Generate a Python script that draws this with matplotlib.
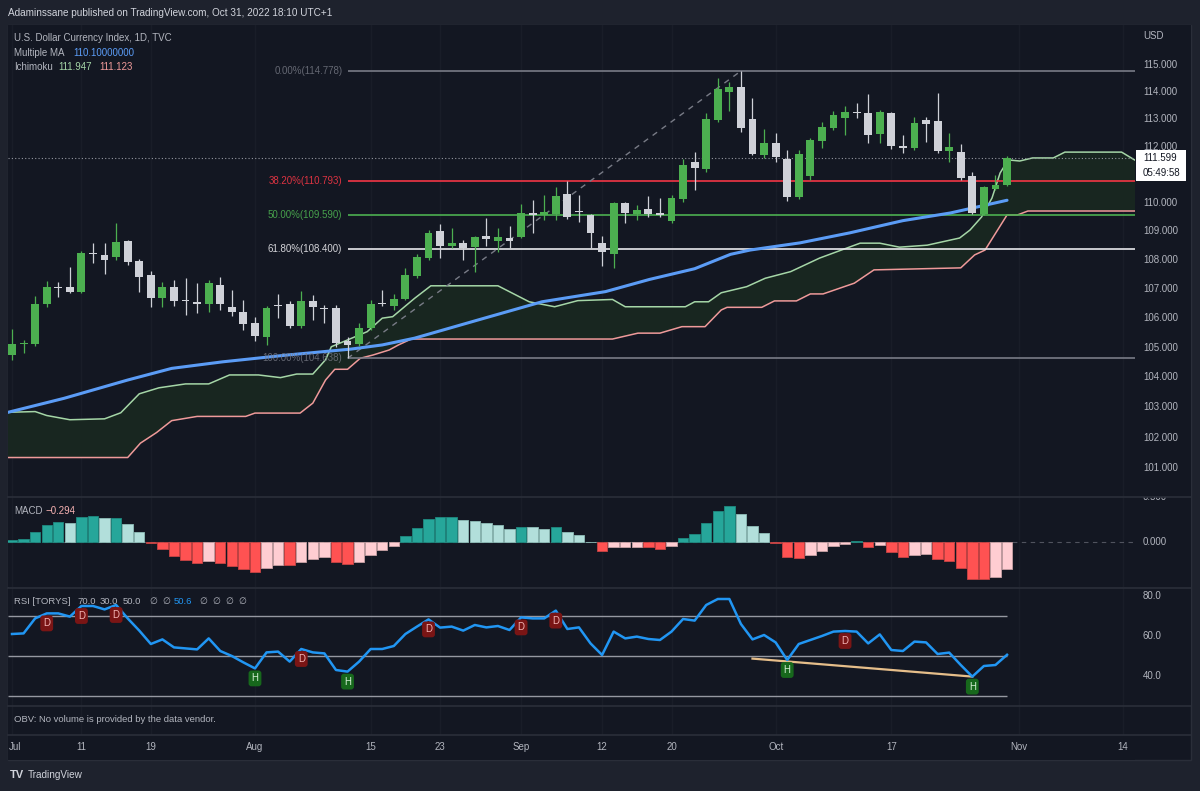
import numpy as np
import matplotlib
matplotlib.use("Agg")
import matplotlib.pyplot as plt
import matplotlib.transforms as mtrans
from matplotlib.patches import Rectangle
from matplotlib.ticker import NullLocator

plt.rcParams['font.family'] = ['Liberation Sans', 'DejaVu Sans']

W, H = 1200, 791
BG_OUT = '#1e222d'
BG_IN = '#131722'
SEP = '#2a2e39'
TXT = '#b2b5be'
GREEN = '#4caf50'
GREY = '#cfd1d8'

# ---------------- data (bar index 0 = Jul 1 2022, daily) ----------------
tick_idx = [0, 6, 12, 21, 31, 37, 44, 51, 57, 66, 76, 87, 96]
tick_lbl = ['Jul', '11', '19', 'Aug', '15', '23', 'Sep', '12', '20', 'Oct', '17', 'Nov', '14']

opens = [104.75, 105.12, 105.12, 106.49, 107.08, 107.07, 106.90, 108.22, 108.17, 108.10,
         108.66, 107.96, 107.48, 106.69, 107.08, 106.60, 106.56, 106.49, 107.14, 106.38,
         106.21, 105.83, 105.36, 106.45, 106.49, 105.72, 106.57, 106.33, 106.34, 105.22,
         105.12, 105.66, 106.51, 106.42, 106.65, 107.45, 108.07, 109.02, 108.49, 108.59,
         108.46, 108.84, 108.67, 108.77, 108.81, 109.65, 109.58, 109.61, 110.32, 109.72,
         109.58, 108.59, 108.21, 110.00, 109.61, 109.79, 109.65, 109.37, 110.14, 111.46,
         111.21, 112.98, 114.00, 114.19, 113.02, 111.72, 112.15, 111.57, 110.21, 110.96,
         112.22, 112.69, 113.05, 113.27, 113.24, 112.48, 113.24, 112.04, 111.97, 112.98,
         112.94, 111.86, 111.82, 110.96, 109.61, 110.50, 110.64]
highs = [105.63, 105.26, 106.76, 107.28, 107.24, 107.76, 108.30, 108.59, 108.59, 109.30,
         108.70, 108.04, 107.62, 107.24, 107.31, 107.38, 107.21, 107.31, 107.41, 106.97,
         106.62, 106.04, 106.40, 106.83, 106.59, 106.93, 106.80, 106.45, 106.45, 105.37,
         105.83, 106.62, 106.95, 106.82, 107.72, 108.21, 109.05, 109.26, 109.12, 108.70,
         108.85, 109.47, 109.12, 109.19, 109.97, 110.10, 110.28, 110.57, 110.78, 110.28,
         109.60, 108.84, 110.03, 110.03, 109.93, 110.25, 110.18, 110.29, 111.57, 111.82,
         113.24, 114.52, 114.37, 114.78, 113.78, 112.66, 112.51, 111.90, 111.90, 112.33,
         112.91, 113.31, 113.49, 113.60, 113.93, 113.35, 113.27, 112.44, 113.09, 113.09,
         113.96, 112.51, 112.10, 111.10, 110.60, 111.00, 111.68]
lows = [104.58, 104.82, 105.05, 106.38, 106.73, 106.86, 106.85, 107.90, 107.52, 108.00,
        107.83, 106.90, 106.38, 106.38, 106.42, 106.11, 106.18, 106.21, 106.28, 106.08,
        105.58, 105.22, 105.09, 106.00, 105.67, 105.67, 105.94, 105.84, 105.01, 104.64,
        105.05, 105.59, 106.42, 106.28, 106.62, 107.38, 108.00, 108.07, 108.42, 108.00,
        107.59, 108.49, 108.28, 108.42, 108.77, 108.95, 109.40, 109.40, 109.45, 109.33,
        108.42, 107.79, 107.72, 109.30, 109.40, 109.51, 109.51, 109.30, 110.05, 110.47,
        111.10, 112.90, 113.31, 112.55, 111.70, 111.61, 111.46, 110.07, 110.14, 110.82,
        111.97, 112.62, 112.44, 113.05, 112.15, 112.15, 111.93, 111.79, 111.90, 112.19,
        111.80, 111.46, 110.82, 109.60, 109.58, 110.46, 110.60]
closes = [105.12, 105.16, 106.49, 107.07, 107.05, 106.90, 108.25, 108.20, 108.00, 108.63,
          107.93, 107.41, 106.69, 107.07, 106.60, 106.57, 106.50, 107.21, 106.49, 106.21,
          105.80, 105.39, 106.35, 106.42, 105.73, 106.57, 106.37, 106.31, 105.16, 105.09,
          105.66, 106.49, 106.47, 106.65, 107.48, 108.11, 108.95, 108.49, 108.59, 108.42,
          108.81, 108.74, 108.81, 108.67, 109.65, 109.58, 109.68, 110.25, 109.51, 109.68,
          108.95, 108.28, 110.00, 109.65, 109.75, 109.61, 109.59, 110.18, 111.35, 111.25,
          113.02, 114.11, 114.19, 112.69, 111.75, 112.15, 111.65, 110.21, 111.75, 112.26,
          112.73, 113.16, 113.27, 113.24, 112.44, 113.27, 112.04, 111.97, 112.87, 112.84,
          111.86, 112.00, 110.89, 109.65, 110.57, 110.64, 111.599]

# Multiple MA (vertices along the curve)
ma_x = [-0.4, 4.5, 10, 13.8, 18.2, 23.8, 29.3, 32, 34.8, 40.3, 45.8, 51.3, 55.1, 59,
        62.1, 63.8, 68.1, 72.4, 77, 81.1, 86]
ma_v = [102.83, 103.30, 103.91, 104.30, 104.52, 104.75, 104.95, 105.09, 105.32, 105.94,
        106.56, 106.91, 107.33, 107.70, 108.20, 108.35, 108.60, 108.95, 109.38, 109.65, 110.10]

# Ichimoku leading spans (vertices, shifted forward)
span_a_x = [-1, 2, 3, 5, 8, 9.4, 11, 12.7, 15, 17, 18.8, 21.3, 23.2, 24.6, 26, 27.1, 27.6,
            29, 30.7, 32, 32.9, 34.8, 36.2, 42, 44.7, 46.9, 48.9, 51.9, 53, 58.2, 59, 60.2,
            61.3, 63.5, 65.1, 67.3, 69.8, 73.3, 75, 76.7, 79.1, 81.9, 82.8, 83.8, 84.7, 85.4,
            86.1, 87.1, 88.2, 90, 91, 95.9, 96.9, 98]
span_a_v = [102.83, 102.86, 102.73, 102.59, 102.62, 102.82, 103.45, 103.65, 103.78, 103.78,
            104.08, 104.08, 103.99, 104.11, 104.11, 104.59, 105.03, 105.26, 105.54, 106.00,
            106.05, 106.68, 107.11, 107.11, 106.56, 106.39, 106.60, 106.64, 106.39, 106.39,
            106.56, 106.56, 106.87, 107.08, 107.37, 107.60, 108.07, 108.59, 108.59, 108.45,
            108.52, 108.77, 109.05, 109.51, 110.18, 111.07, 111.54, 111.50, 111.61, 111.61,
            111.82, 111.82, 111.57, 111.30]
span_b_x = [-1, 10, 11.1, 12.5, 13.8, 16, 20.2, 21, 24.9, 26, 27.1, 27.9, 29, 30.1, 31.2,
            32.6, 33.4, 34.5, 51.9, 54.1, 56, 57.9, 59.9, 61.3, 61.8, 64.8, 65.9, 67.8, 69,
            70.1, 72.8, 74.5, 82, 83.2, 84.1, 86, 86.9, 87.8, 98]
span_b_v = [101.35, 101.35, 101.82, 102.17, 102.56, 102.70, 102.70, 102.81, 102.81, 103.14,
            103.91, 104.27, 104.27, 104.64, 104.75, 104.92, 105.09, 105.29, 105.29, 105.49,
            105.49, 105.71, 105.71, 106.28, 106.37, 106.37, 106.59, 106.59, 106.83, 106.83,
            107.20, 107.66, 107.73, 108.18, 108.35, 109.58, 109.58, 109.72, 109.72]
ichi_legend = (111.947, 111.123)

# Fibonacci retracement
fib_lbl = ['0.00%', '38.20%', '50.00%', '61.80%', '100.00%']
fib_lvl = [114.778, 110.793, 109.590, 108.400, 104.638]
fib_col = ['#787b86', '#f23645', '#4caf50', '#e8e8ec', '#787b86']
fib_anchor = (29, 63)

# MACD histogram
macd_hist = [0.025, 0.033, 0.117, 0.19, 0.22, 0.21, 0.275, 0.29, 0.262, 0.266,
             0.20, 0.11, -0.003, -0.074, -0.15, -0.198, -0.227, -0.205, -0.227, -0.26,
             -0.29, -0.326, -0.282, -0.244, -0.248, -0.213, -0.184, -0.158, -0.213, -0.242,
             -0.213, -0.14, -0.085, -0.04, 0.073, 0.157, 0.256, 0.275, 0.278, 0.245,
             0.234, 0.212, 0.19, 0.143, 0.165, 0.163, 0.15, 0.165, 0.117, 0.08,
             0.004, -0.095, -0.055, -0.053, -0.048, -0.055, -0.074, -0.04, 0.044, 0.088,
             0.209, 0.34, 0.40, 0.311, 0.179, 0.099, -0.002, -0.165, -0.176, -0.143,
             -0.095, -0.04, -0.015, 0.01, -0.048, -0.03, -0.11, -0.165, -0.143, -0.129,
             -0.18, -0.205, -0.282, -0.40, -0.407, -0.385, -0.294]

# RSI
rsi = [61.0, 61.3, 68.8, 71.3, 71.3, 69.7, 75.0, 75.0, 73.3, 75.5,
       68.8, 62.7, 56.0, 58.3, 54.3, 53.8, 53.3, 58.8, 52.5, 50.0,
       46.8, 43.8, 51.8, 52.2, 47.2, 53.5, 51.8, 51.3, 43.0, 42.2,
       47.2, 53.5, 53.5, 55.0, 61.0, 64.7, 68.3, 64.2, 64.7, 62.7,
       65.5, 64.3, 65.0, 63.0, 69.3, 68.8, 68.8, 72.7, 63.5, 64.3,
       56.3, 50.5, 62.2, 58.8, 59.7, 58.5, 58.0, 62.2, 68.5, 67.7,
       75.5, 78.5, 78.5, 66.0, 58.3, 60.5, 56.8, 48.0, 56.0, 58.0,
       60.0, 62.2, 62.5, 62.2, 56.3, 60.8, 53.0, 52.5, 57.2, 56.8,
       51.0, 51.7, 45.5, 39.7, 45.0, 45.5, 50.6]
rsi_bands = [70, 50, 30]
div_d = [3, 6, 9, 25, 36, 44, 47, 72]
div_h = [21, 29, 67, 83]
div_line = ([64, 83], [48.7, 39.7])

# ---------------- layout helpers ----------------
XL = (-0.346, 97.06)


def rect(x0, y0, x1, y1):
    return [x0 / W, 1 - y1 / H, (x1 - x0) / W, (y1 - y0) / H]


def ftext(x, y, s, **kw):
    kw.setdefault('color', TXT)
    kw.setdefault('fontsize', 7)
    return fig.text(x / W, 1 - y / H, s, va='center', **kw)


def blank(a):
    a.set_facecolor(BG_IN)
    for sp in a.spines.values():
        sp.set_visible(False)
    a.set_xticks([])
    a.set_yticks([])
    a.yaxis.set_minor_locator(NullLocator())
    a.tick_params(which='both', length=0)


fig = plt.figure(figsize=(W / 100, H / 100), dpi=100, facecolor=BG_OUT)
fig.add_artist(Rectangle((8 / W, 1 - 760 / H), 1183 / W, 735 / H, transform=fig.transFigure,
                         facecolor=BG_IN, edgecolor=SEP, lw=1, zorder=0))

ax = fig.add_axes(rect(8, 25, 1135, 497))
axm = fig.add_axes(rect(8, 497, 1135, 587))
axr = fig.add_axes(rect(8, 588, 1135, 706))
axo = fig.add_axes(rect(8, 706, 1135, 735))
axt = fig.add_axes(rect(8, 735, 1135, 760))
ps = fig.add_axes(rect(1135, 25, 1191, 497))
ms = fig.add_axes(rect(1135, 497, 1191, 587))
rs = fig.add_axes(rect(1135, 588, 1191, 706))

ax.set_yscale('log')
ps.set_yscale('log')
for a in (ax, axm, axr, axo, axt, ps, ms, rs):
    blank(a)
for a in (ax, axm, axr, axo, axt):
    a.set_xlim(*XL)
    for t in tick_idx:
        if a is not axt:
            a.axvline(t, color='#191d28', lw=1, zorder=0)

PLO, PHI = 100.07, 116.49
ax.set_ylim(PLO, PHI)
ps.set_ylim(PLO, PHI)

# ---------------- main pane ----------------
ax.fill(span_a_x + span_b_x[::-1], span_a_v + span_b_v[::-1], color='#182620', lw=0, zorder=1)
ax.plot(span_a_x, span_a_v, color='#a5d6a7', lw=1.1, zorder=2)
ax.plot(span_b_x, span_b_v, color='#ef9a9a', lw=1.1, zorder=2)
ax.plot(ma_x, ma_v, color='#5b9cf6', lw=2.2, zorder=3, solid_capstyle='round')

for lb, lv, cl in zip(fib_lbl, fib_lvl, fib_col):
    ax.hlines(lv, fib_anchor[0], XL[1], color=cl, lw=1.2, zorder=2.5)
    ax.text(fib_anchor[0] - 0.45, lv, f"{lb}({lv:.3f})", ha='right', va='center',
            color=cl, fontsize=7, zorder=6, alpha=0.9 if cl != '#787b86' else 0.8)
ax.plot(fib_anchor, [fib_lvl[-1], fib_lvl[0]], color='#787b86', lw=1, ls=(0, (4, 4)), zorder=2.5)

o, h, l, c = map(np.array, (opens, highs, lows, closes))
idx = np.arange(len(o))
col = np.where(c >= o, GREEN, GREY)
ax.vlines(idx, l, h, colors=col, lw=0.9, zorder=4)
ax.bar(idx, np.maximum(np.abs(c - o), 0.035), bottom=np.minimum(o, c), width=0.68,
       color=col, lw=0, zorder=5)
ax.axhline(closes[-1], color='#9598a1', lw=0.8, ls=(0, (1, 2)), zorder=3)

# price scale (the 111 label sits under the last-price tag, 100 is cut off by the pane)
bt = mtrans.blended_transform_factory(ps.transAxes, ps.transData)
for v in range(101, 116):
    if v == 111:
        continue
    ps.text(0.14, v, f"{v:.3f}", transform=bt, va='center', ha='left', color=TXT,
            fontsize=7, clip_on=True)
ftext(1143, 36, 'USD')
ypx = ps.transData.transform((0, closes[-1]))[1]
fig.add_artist(Rectangle((1136, ypx - 23), 50, 31, transform=mtrans.IdentityTransform(),
                         facecolor='white', edgecolor='none', zorder=10))
fig.text(1143 / W, ypx / H, f"{closes[-1]:.3f}", va='center', color='#131722', fontsize=7, zorder=11)
fig.text(1143 / W, (ypx - 15) / H, "05:49:58", va='center', color='#131722', fontsize=7, zorder=11)

# ---------------- MACD ----------------
axm.set_ylim(-0.491, 0.498)
ms.set_ylim(-0.491, 0.498)
mh = np.array(macd_hist)
prev = np.concatenate([[0], mh[:-1]])
mcol = np.where(mh >= 0, np.where(mh >= prev, '#26a69a', '#b2dfdb'),
                np.where(mh < prev, '#ff5252', '#ffcdd2'))
mec = np.where(mh >= 0, np.where(mh >= prev, '#1f8a80', '#8fbdb8'),
               np.where(mh < prev, '#c94444', '#c9a2a6'))
axm.axhline(0, color='#50535e', lw=0.8, ls=(0, (4, 4)), zorder=1)
axm.bar(idx, mh, width=0.9, color=mcol, edgecolor=mec, lw=0.6, zorder=2)
bm = mtrans.blended_transform_factory(ms.transAxes, ms.transData)
for v in (0.5, 0.0):
    ms.text(0.14, v, f"{v:.3f}", transform=bm, va='center', ha='left', color=TXT,
            fontsize=7, clip_on=True)

# ---------------- RSI ----------------
axr.set_ylim(25, 84)
rs.set_ylim(25, 84)
for b in rsi_bands:
    axr.hlines(b, XL[0], len(rsi) - 1, color='#9598a1', lw=1, zorder=1)
axr.plot(idx, rsi, color='#2196f3', lw=1.8, zorder=3)
axr.plot(*div_line, color='#e6be8a', lw=1.6, zorder=2)
for i in div_d:
    axr.annotate('D', (i, rsi[i]), xytext=(0, -10), textcoords='offset pixels', ha='center',
                 va='center', fontsize=7, color='#f3b4b4', zorder=5,
                 bbox=dict(boxstyle='round,pad=0.3', fc='#7a1515', ec='none'))
for i in div_h:
    axr.annotate('H', (i, rsi[i]), xytext=(0, -10), textcoords='offset pixels', ha='center',
                 va='center', fontsize=7, color='#d6f0d6', zorder=5,
                 bbox=dict(boxstyle='round,pad=0.3', fc='#17681c', ec='none'))
br = mtrans.blended_transform_factory(rs.transAxes, rs.transData)
for v in (80, 60, 40):
    rs.text(0.14, v, f"{v:.1f}", transform=br, va='center', ha='left', color=TXT, fontsize=7)

# ---------------- time axis ----------------
btx = mtrans.blended_transform_factory(axt.transData, axt.transAxes)
for t, s in zip(tick_idx, tick_lbl):
    xpos, ha = (XL[0] + 0.05, 'left') if t == tick_idx[0] else (t, 'center')
    axt.text(xpos, 0.5, s, transform=btx, ha=ha, va='center', color=TXT, fontsize=7)

# separators
for y in (497, 587.5, 706, 735):
    fig.add_artist(plt.Line2D([8 / W, 1191 / W], [1 - y / H, 1 - y / H], color=SEP, lw=1.2,
                              transform=fig.transFigure, zorder=9))

# ---------------- texts ----------------
ftext(8, 13, 'Adaminssane published on TradingView.com, Oct 31, 2022 18:10 UTC+1',
      color='#d1d4dc', fontsize=7.2)
ftext(14, 38, 'U.S. Dollar Currency Index, 1D, TVC')
ftext(14, 53, 'Multiple MA')
ftext(73, 53, f"{ma_v[-1]:.8f}", color='#5b9cf6')
ftext(14, 67, 'Ichimoku')
ftext(58, 67, f"{ichi_legend[0]:.3f}", color='#a5d6a7')
ftext(99, 67, f"{ichi_legend[1]:.3f}", color='#ef9a9a')
ftext(14, 511, 'MACD')
ftext(46, 511, f"\u2212{abs(macd_hist[-1]):.3f}", color='#f7b2b2')
ftext(14, 602, 'RSI [TORYS]', fontsize=6.8)
for xx, s in zip([77, 100, 123], ['70.0', '30.0', '50.0']):
    ftext(xx, 602, s, fontsize=6.8)
for xx in (149, 162):
    ftext(xx, 602, '\u2205', fontsize=6.5)
ftext(174, 602, f"{rsi[-1]:.1f}", color='#2196f3', fontsize=6.8)
for xx in (199, 212, 225, 238):
    ftext(xx, 602, '\u2205', fontsize=6.5)
ftext(14, 720, 'OBV: No volume is provided by the data vendor.', fontsize=6.8)
ftext(10, 775, 'TV', color='#d1d4dc', fontsize=8, fontweight='bold')
ftext(28, 775, 'TradingView', color='#d1d4dc', fontsize=7.2)

fig.savefig('out.png', dpi=100, facecolor=BG_OUT)
